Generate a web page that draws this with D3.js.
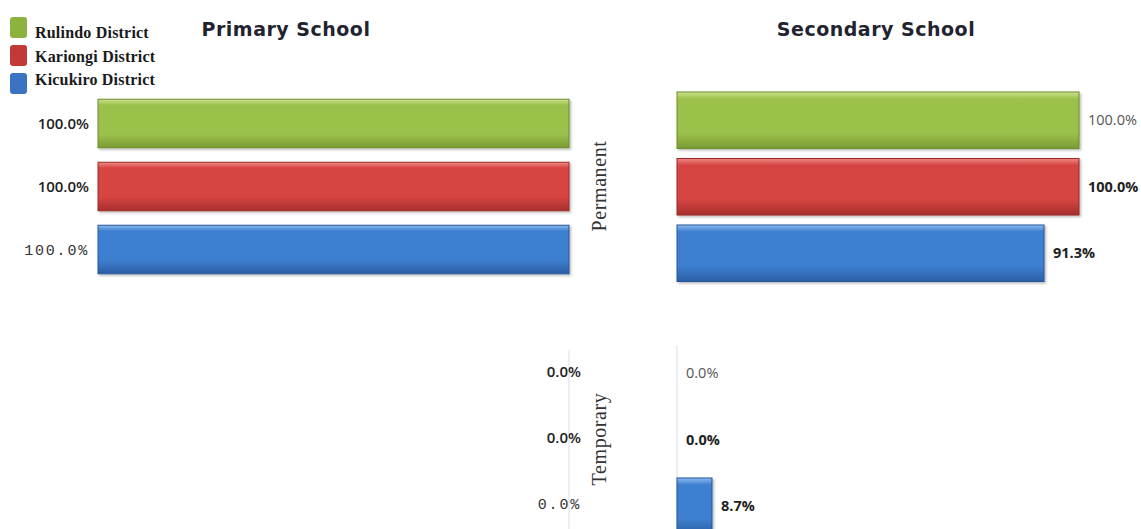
<!DOCTYPE html>
<html>
<head>
<meta charset="utf-8">
<script src="https://cdn.jsdelivr.net/npm/d3@7"></script>
<style>
  html, body { margin: 0; padding: 0; background: #ffffff; }
  svg { display: block; }
</style>
</head>
<body>
<svg id="chart" width="1141" height="529"></svg>
<script>
// School building types by district, percentages
const districts = ["Rulindo District", "Kariongi District", "Kicukiro District"];
const buildingTypes = ["Permanent", "Temporary"];
const panels = ["Primary School", "Secondary School"];
const primaryPermanent = [100, 100, 100];
const primaryTemporary = [0, 0, 0];
const secondaryPermanent = [100, 100, 91.3];
const secondaryTemporary = [0, 0, 8.7];

const svg = d3.select("#chart");
const W = 1141, H = 529;

// bar fills: light top edge, base body, darker bottom
const palette = [
  { top: "#cde38f", base: "#9cc14c", bottom: "#7a9a33", stroke: "#6f8c2c", key: "#8db33f" },
  { top: "#f08a84", base: "#d64543", bottom: "#a62e2c", stroke: "#9a2b29", key: "#c23a37" },
  { top: "#8dbcf0", base: "#3e7fd0", bottom: "#2b5ea5", stroke: "#27569a", key: "#3b73c2" }
];

const defs = svg.append("defs");
palette.forEach((c, i) => {
  const g = defs.append("linearGradient")
    .attr("id", "barGrad" + i)
    .attr("x1", 0).attr("y1", 0).attr("x2", 0).attr("y2", 1);
  g.append("stop").attr("offset", "0%").attr("stop-color", c.top);
  g.append("stop").attr("offset", "12%").attr("stop-color", c.base);
  g.append("stop").attr("offset", "72%").attr("stop-color", c.base);
  g.append("stop").attr("offset", "100%").attr("stop-color", c.bottom);
});
const shadow = defs.append("filter").attr("id", "barShadow")
  .attr("x", "-5%").attr("y", "-10%").attr("width", "115%").attr("height", "130%");
shadow.append("feDropShadow")
  .attr("dx", 1.5).attr("dy", 1.5).attr("stdDeviation", 1.2)
  .attr("flood-color", "#000").attr("flood-opacity", 0.28);

// horizontal scales: primary grows leftward, secondary rightward
const xPrimary = d3.scaleLinear().domain([0, 100]).range([569, 98]);
const xSecondary = d3.scaleLinear().domain([0, 100]).range([677, 1079]);

// vertical band scales per panel and building type
const bandScales = {
  "Primary School": {
    Permanent: d3.scaleBand().domain(districts).range([92, 281]).paddingInner(0.23).paddingOuter(0.115),
    Temporary: d3.scaleBand().domain(districts).range([339, 537]).paddingInner(0.15).paddingOuter(0.075)
  },
  "Secondary School": {
    Permanent: d3.scaleBand().domain(districts).range([87, 286.5]).paddingInner(0.15).paddingOuter(0.075),
    Temporary: d3.scaleBand().domain(districts).range([340, 539.5]).paddingInner(0.15).paddingOuter(0.075)
  }
};

const panelData = {
  "Primary School": { x: xPrimary, Permanent: primaryPermanent, Temporary: primaryTemporary },
  "Secondary School": { x: xSecondary, Permanent: secondaryPermanent, Temporary: secondaryTemporary }
};

// label style per district row and panel
const labelStyle = {
  "Primary School": [
    { family: "'Open Sans', sans-serif", weight: 600, size: 15, fill: "#222", spacing: 0 },
    { family: "'Open Sans', sans-serif", weight: 600, size: 15, fill: "#222", spacing: 0 },
    { family: "'Liberation Mono', monospace", weight: 400, size: 15, fill: "#333", spacing: 1.8 }
  ],
  "Secondary School": [
    { family: "'Open Sans', sans-serif", weight: 400, size: 14.5, fill: "#555", spacing: 0 },
    { family: "'Open Sans', sans-serif", weight: 700, size: 14.5, fill: "#222", spacing: 0 },
    { family: "'Open Sans', sans-serif", weight: 700, size: 14.5, fill: "#222", spacing: 0 }
  ]
};

// faint zero lines in the temporary block
svg.append("line").attr("x1", xPrimary(0)).attr("x2", xPrimary(0))
  .attr("y1", 350).attr("y2", H).attr("stroke", "#e6e8ef").attr("stroke-width", 1.5);
svg.append("line").attr("x1", xSecondary(0)).attr("x2", xSecondary(0))
  .attr("y1", 345).attr("y2", H).attr("stroke", "#e6e8ef").attr("stroke-width", 1.5);

const fmt = d3.format(".1f");

panels.forEach(panel => {
  const x = panelData[panel].x;
  buildingTypes.forEach(type => {
    const y = bandScales[panel][type];
    const values = panelData[panel][type];
    const rows = districts.map((d, i) => ({ d, i, v: values[i] }));

    const g = svg.append("g");
    g.selectAll("rect.bar")
      .data(rows.filter(r => r.v > 0))
      .join("rect")
      .attr("class", "bar")
      .attr("x", r => Math.min(x(0), x(r.v)))
      .attr("width", r => Math.abs(x(r.v) - x(0)))
      .attr("y", r => y(r.d))
      .attr("height", y.bandwidth())
      .attr("fill", r => `url(#barGrad${r.i})`)
      .attr("stroke", r => palette[r.i].stroke)
      .attr("stroke-width", 1)
      .attr("filter", "url(#barShadow)");

    g.selectAll("text.val")
      .data(rows)
      .join("text")
      .attr("class", "val")
      .attr("x", r => {
        if (panel === "Primary School") return r.v > 0 ? x(r.v) - 9 : x(0) + 12;
        return x(r.v) + 9;
      })
      .attr("y", r => y(r.d) + y.bandwidth() / 2)
      .attr("dy", "0.35em")
      .attr("text-anchor", panel === "Primary School" ? "end" : "start")
      .style("font-family", r => labelStyle[panel][r.i].family)
      .style("font-weight", r => labelStyle[panel][r.i].weight)
      .style("font-size", r => labelStyle[panel][r.i].size + "px")
      .style("letter-spacing", r => labelStyle[panel][r.i].spacing + "px")
      .attr("fill", r => labelStyle[panel][r.i].fill)
      .text(r => fmt(r.v) + "%");
  });
});

// panel titles
svg.selectAll("text.title")
  .data([{ t: panels[0], cx: 286 }, { t: panels[1], cx: 876 }])
  .join("text")
  .attr("class", "title")
  .attr("x", d => d.cx)
  .attr("y", 36)
  .attr("text-anchor", "middle")
  .style("font-family", "'DejaVu Sans', Verdana, sans-serif")
  .style("font-weight", 700)
  .style("font-size", "19px")
  .style("letter-spacing", "0.5px")
  .attr("fill", "#1f2430")
  .text(d => d.t);

// building type labels, rotated
const typeCenters = [
  { t: buildingTypes[0], y: 186 },
  { t: buildingTypes[1], y: 439 }
];
svg.selectAll("text.type")
  .data(typeCenters)
  .join("text")
  .attr("class", "type")
  .attr("transform", d => `translate(606,${d.y}) rotate(-90)`)
  .attr("text-anchor", "middle")
  .style("font-family", "'Liberation Serif', 'DejaVu Serif', serif")
  .style("font-size", "20px")
  .style("letter-spacing", "0.6px")
  .attr("fill", "#333")
  .text(d => d.t);

// legend
const legend = svg.append("g");
legend.selectAll("rect")
  .data(districts)
  .join("rect")
  .attr("x", 10)
  .attr("y", (d, i) => 17 + i * 28)
  .attr("width", 17)
  .attr("height", 21)
  .attr("rx", 3)
  .attr("fill", (d, i) => palette[i].key);
legend.selectAll("text")
  .data(districts)
  .join("text")
  .attr("x", 35)
  .attr("y", (d, i) => 38 + i * 23.5)
  .style("font-family", "'Liberation Serif', 'DejaVu Serif', serif")
  .style("font-weight", 700)
  .style("font-size", "16px")
  .style("letter-spacing", "0.2px")
  .attr("fill", "#1a1a1a")
  .text(d => d);
</script>
</body>
</html>
